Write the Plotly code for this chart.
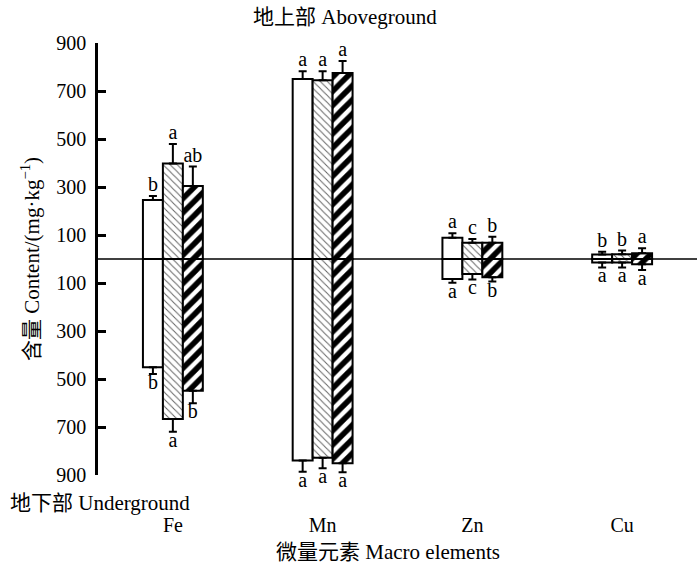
import plotly.graph_objects as go

elements = ["Fe", "Mn", "Zn", "Cu"]

# 地上部 (aboveground) content, mg/kg
above_white = [246, 750, 89, 19]
above_dotted = [398, 745, 68, 20]
above_hatched = [304, 775, 68, 24]
above_err_white = [16, 32, 18, 11]
above_err_dotted = [81, 37, 15, 15]
above_err_hatched = [81, 50, 25, 21]

# 地下部 (underground) content, mg/kg
below_white = [451, 840, 83, 15]
below_dotted = [667, 828, 62, 15]
below_hatched = [549, 851, 76, 22]
below_err_white = [28, 46, 16, 20]
below_err_dotted = [53, 44, 23, 20]
below_err_hatched = [52, 38, 18, 24]

# significance letters
above_letters_white = ["b", "a", "a", "b"]
above_letters_dotted = ["a", "a", "c", "b"]
above_letters_hatched = ["ab", "a", "b", "a"]
below_letters_white = ["b", "a", "a", "a"]
below_letters_dotted = ["a", "a", "c", "a"]
below_letters_hatched = ["b", "a", "b", "a"]

tick_vals = [900, 700, 500, 300, 100, -100, -300, -500, -700, -900]
tick_text = [str(abs(v)) for v in tick_vals]

FONT = "Liberation Serif, Noto Sans CJK SC"
bw = 0.1333
offsets = [-0.2, -0.0667, 0.0667]
patterns = [
    dict(shape=""),
    dict(shape="\\", fgcolor="black", bgcolor="white", fgopacity=0.6, size=5, solidity=0.2),
    dict(shape="/", fgcolor="black", bgcolor="white", fgopacity=1, size=10, solidity=0.55),
]

above = [above_white, above_dotted, above_hatched]
above_err = [above_err_white, above_err_dotted, above_err_hatched]
below = [below_white, below_dotted, below_hatched]
below_err = [below_err_white, below_err_dotted, below_err_hatched]
above_let = [above_letters_white, above_letters_dotted, above_letters_hatched]
below_let = [below_letters_white, below_letters_dotted, below_letters_hatched]

xs = list(range(len(elements)))
fig = go.Figure()

for k in range(3):
    xc = [x + offsets[k] + bw / 2 for x in xs]
    fig.add_trace(go.Bar(
        x=xs, y=above[k], base=0, width=bw, offset=offsets[k],
        marker=dict(color="white", opacity=1, line=dict(color="black", width=2), pattern=patterns[k]),
        error_y=dict(type="data", symmetric=False, array=above_err[k], arrayminus=[0] * 4,
                     color="black", thickness=2, width=4),
        showlegend=False,
    ))
    fig.add_trace(go.Bar(
        x=xs, y=[-v for v in below[k]], base=0, width=bw, offset=offsets[k],
        marker=dict(color="white", opacity=1, line=dict(color="black", width=2), pattern=patterns[k]),
        error_y=dict(type="data", symmetric=False, array=[0] * 4, arrayminus=below_err[k],
                     color="black", thickness=2, width=4),
        showlegend=False,
    ))
    fig.add_trace(go.Scatter(
        x=xc, y=[v + e for v, e in zip(above[k], above_err[k])], mode="text",
        text=above_let[k], textposition="top center", cliponaxis=False,
        textfont=dict(family=FONT, size=20, color="black"), showlegend=False,
    ))
    fig.add_trace(go.Scatter(
        x=xc, y=[-(v + e) for v, e in zip(below[k], below_err[k])], mode="text",
        text=below_let[k], textposition="bottom center", cliponaxis=False,
        textfont=dict(family=FONT, size=20, color="black"), showlegend=False,
    ))

fig.update_layout(
    barmode="overlay",
    width=700, height=572,
    margin=dict(l=98, r=3, t=43, b=97),
    paper_bgcolor="white", plot_bgcolor="white",
    font=dict(family=FONT, size=19, color="black"),
)
fig.update_xaxes(
    range=[-0.5, 3.5], tickvals=xs, ticktext=elements,
    showline=False, showgrid=False, zeroline=False, ticks="",
    ticklabelstandoff=36, tickfont=dict(size=20),
)
fig.update_yaxes(
    range=[-900, 900], tickvals=tick_vals, ticktext=tick_text,
    showline=True, linecolor="black", linewidth=2.5, mirror=False,
    ticks="inside", ticklen=8, tickwidth=2.5, tickcolor="black",
    showgrid=False, zeroline=False, tickfont=dict(size=20), ticklabelstandoff=5,
)

# horizontal zero line across the plot, above the bars
fig.add_shape(type="line", xref="paper", yref="y", x0=0, x1=1, y0=0, y1=0,
              line=dict(color="black", width=1.5), layer="above")

fig.add_annotation(text="地上部 Aboveground", xref="paper", yref="paper",
                   x=(345 - 98) / 599, y=1, yshift=26, showarrow=False,
                   font=dict(size=21), xanchor="center", yanchor="middle")
fig.add_annotation(text="地下部 Underground", xref="paper", yref="paper",
                   x=-90 / 599, y=0, yshift=-28, showarrow=False,
                   font=dict(size=21), xanchor="left", yanchor="middle")
fig.add_annotation(text="微量元素 Macro elements", xref="paper", yref="paper",
                   x=(388 - 98) / 599, y=0, yshift=-77, showarrow=False,
                   font=dict(size=21), xanchor="center", yanchor="middle")
fig.add_annotation(text="含量 Content/(mg·kg<sup>−1</sup>)", xref="paper", yref="paper",
                   x=0, xshift=-68, y=0.5, textangle=-90, showarrow=False,
                   font=dict(size=21), xanchor="center", yanchor="middle")

fig.write_html("out.html", config={"displayModeBar": False},
               post_script="document.body.style.margin='0px';")
